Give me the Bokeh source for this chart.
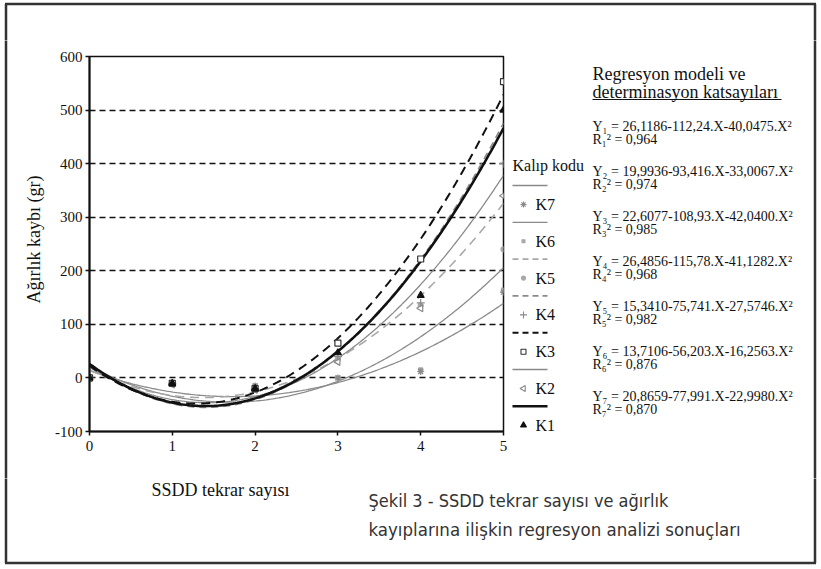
import numpy as np
from bokeh.plotting import figure
from bokeh.models import FixedTicker, ColumnDataSource, Range1d
from bokeh.layouts import row, column
from bokeh.core.properties import value
from bokeh.embed import file_html
from bokeh.resources import INLINE

# ---------------- data ----------------
SERIES = ["K1", "K2", "K3", "K4", "K5", "K6", "K7"]
INTERCEPT = [26.1186, 19.9936, 22.6077, 26.4856, 15.3410, 13.7106, 20.8659]
LINEAR = [-112.24, -93.416, -108.93, -115.78, -75.741, -56.203, -77.991]
QUADRATIC = [40.0475, 33.0067, 42.0400, 41.1282, 27.5746, 16.2563, 22.9980]

X_OBS = [0, 1, 2, 3, 4, 5]
K1_OBS = [0, -10, -20, 47, 154, 500]
K2_OBS = [0, -12, -22, 30, 130, 340]
K3_OBS = [0, -10, -20, 65, 222, 553]
K4_OBS = [0, -10, -20, 40, 140, 400]
K5_OBS = [0, -10, -20, 35, 135, 240]
K6_OBS = [0, -10, -15, 0, 15, 164]
K7_OBS = [0, -10, -15, 0, 12, 160]
OBS = [K1_OBS, K2_OBS, K3_OBS, K4_OBS, K5_OBS, K6_OBS, K7_OBS]

X_TICKS = [0, 1, 2, 3, 4, 5]
Y_TICKS = [-100, 0, 100, 200, 300, 400, 500, 600]
Y_TICK_LABELS = {-100: "-100"}
GRID_TICKS = [0, 100, 200, 300, 400, 500]

EQ_TEXT = [
    ("Y\u2081 = 26,1186-112,24.X-40,0475.X\u00b2", "R\u2081\u00b2 = 0,964"),
    ("Y\u2082 = 19,9936-93,416.X-33,0067.X\u00b2", "R\u2082\u00b2 = 0,974"),
    ("Y\u2083 = 22,6077-108,93.X-42,0400.X\u00b2", "R\u2083\u00b2 = 0,985"),
    ("Y\u2084 = 26,4856-115,78.X-41,1282.X\u00b2", "R\u2084\u00b2 = 0,968"),
    ("Y\u2085 = 15,3410-75,741.X-27,5746.X\u00b2", "R\u2085\u00b2 = 0,982"),
    ("Y\u2086 = 13,7106-56,203.X-16,2563.X\u00b2", "R\u2086\u00b2 = 0,876"),
    ("Y\u2087 = 20,8659-77,991.X-22,9980.X\u00b2", "R\u2087\u00b2 = 0,870"),
]
LEGEND_ORDER = ["K7", "K6", "K5", "K4", "K3", "K2", "K1"]

Y_TITLE = "A\u011f\u0131rl\u0131k kayb\u0131 (gr)"
X_TITLE = "SSDD tekrar say\u0131s\u0131"
CAPTION = ["\u015eekil 3 - SSDD tekrar say\u0131s\u0131 ve a\u011f\u0131rl\u0131k",
           "kay\u0131plar\u0131na ili\u015fkin regresyon analizi sonu\u00e7lar\u0131"]
BLOCK_TITLE = ["Regresyon modeli ve", "determinasyon katsay\u0131lar\u0131"]
LEGEND_TITLE = "Kal\u0131p kodu"

# ---------------- styles ----------------
INK = "#111111"
GRAY = "#8a8a8a"
LGRAY = "#a8a8a8"
FRAME = "#333333"
STYLE = {
    "K1": dict(lc=INK, lw=2.6, dash="solid", marker="triangle", angle=0.0, fill=INK, mc=INK, size=7),
    "K2": dict(lc=GRAY, lw=1.3, dash="solid", marker="triangle", angle=np.pi / 2, fill="white", mc=GRAY, size=7),
    "K3": dict(lc=INK, lw=2.0, dash="9 6", marker="square", angle=0.0, fill="white", mc="#333333", size=6),
    "K4": dict(lc=GRAY, lw=1.6, dash="7 5", marker="cross", angle=0.0, fill=GRAY, mc=GRAY, size=8),
    "K5": dict(lc=LGRAY, lw=1.6, dash="9 6", marker="circle", angle=0.0, fill=LGRAY, mc=LGRAY, size=5),
    "K6": dict(lc=GRAY, lw=1.3, dash="solid", marker="square", angle=0.0, fill=LGRAY, mc=LGRAY, size=4),
    "K7": dict(lc=GRAY, lw=1.3, dash="solid", marker="asterisk", angle=0.0, fill=GRAY, mc=GRAY, size=7),
}
SERIF = "Liberation Serif"
CONDENSED = "DejaVu Sans Condensed"

TOTAL_W, TOTAL_H = 819, 567
TOP_H, LEFT_W, BOT_H = 40, 45, 89
MAIN_W = 463
MID_H = TOTAL_H - TOP_H - BOT_H
RIGHT_W = TOTAL_W - LEFT_W - MAIN_W


def no_frame_align(f):
    if "frame_align" in f.properties():
        f.frame_align = False
    return f


def strip(cx, cy, w, h):
    """A plain figure whose frame fills it; ranges are page pixels (y downward)."""
    f = figure(width=w, height=h, x_range=Range1d(cx, cx + w), y_range=Range1d(cy + h, cy),
               output_backend="svg", toolbar_location=None,
               x_axis_location=None, y_axis_location=None, min_border=0)
    f.grid.visible = False
    f.outline_line_color = None
    f.background_fill_color = "white"
    f.border_fill_color = "white"
    return no_frame_align(f)


def txt(f, x, y, s, size, font=SERIF, color=INK, align="left", angle=0.0):
    f.text(x=[x], y=[y], text=[s], text_font=value(font), text_font_size=value(size),
           text_color=color, text_align=align, text_baseline="middle", angle=angle)


def seg(f, x0, y0, x1, y1, color=FRAME, width=2.5, dash="solid"):
    f.segment(x0=[x0], y0=[y0], x1=[x1], y1=[y1], line_color=color, line_width=width, line_dash=dash)


BL, BR, BT, BB = 5.5, 814.5, 3.5, 562.5   # outer frame lines
EXT = 6  # vertical frame pieces run past each strip's edges (clipped there)

# ---------------- main chart ----------------
p = figure(width=MAIN_W, height=MID_H, x_range=(0, 5), y_range=(-100, 600),
           output_backend="svg", toolbar_location=None,
           min_border_left=44, min_border_right=5, min_border_top=16, min_border_bottom=47)
no_frame_align(p)
p.background_fill_color = "white"
p.border_fill_color = "white"
p.outline_line_color = INK
p.outline_line_width = 1.5

p.xaxis.ticker = FixedTicker(ticks=X_TICKS)
p.yaxis.ticker = FixedTicker(ticks=Y_TICKS)
p.yaxis.major_label_overrides = Y_TICK_LABELS
for ax in (p.xaxis[0], p.yaxis[0]):
    ax.axis_line_color = INK
    ax.axis_line_width = 2
    ax.major_tick_line_color = INK
    ax.major_tick_line_width = 1.5
    ax.major_tick_out = 4
    ax.major_tick_in = 0
    ax.minor_tick_line_color = None
    ax.major_label_text_font = SERIF
    ax.major_label_text_font_size = "15px"
    ax.major_label_text_color = INK
p.yaxis.major_label_standoff = 3
p.xaxis.major_label_standoff = 5

p.xgrid.grid_line_color = None
p.ygrid.ticker = FixedTicker(ticks=GRID_TICKS)
p.ygrid.grid_line_color = INK
p.ygrid.grid_line_width = 1.4
p.ygrid.grid_line_dash = "6 4"

xs = np.linspace(0, 5, 200)
draw_order = ["K6", "K7", "K5", "K2", "K4", "K3", "K1"]
for name in draw_order:
    i = SERIES.index(name)
    st = STYLE[name]
    ys = INTERCEPT[i] + LINEAR[i] * xs + QUADRATIC[i] * xs ** 2
    p.line(xs, ys, line_color=st["lc"], line_width=st["lw"], line_dash=st["dash"])
for name in draw_order:
    i = SERIES.index(name)
    st = STYLE[name]
    src = ColumnDataSource(dict(x=X_OBS, y=OBS[i]))
    p.scatter("x", "y", source=src, marker=st["marker"], angle=st["angle"], size=st["size"],
              fill_color=st["fill"], line_color=st["mc"], line_width=1.2)

# ---------------- top strip (frame line only) ----------------
top = strip(0, 0, TOTAL_W, TOP_H)
seg(top, BL - 1, BT, BR + 1, BT)
seg(top, BL, BT, BL, TOP_H + EXT)
seg(top, BR, BT, BR, TOP_H + EXT)

# ---------------- left strip (y title) ----------------
left = strip(0, TOP_H, LEFT_W, MID_H)
seg(left, BL, TOP_H - EXT, BL, TOP_H + MID_H + EXT)
txt(left, 33, 239, Y_TITLE, "18px", align="center", angle=np.pi / 2)

# ---------------- right panel (legend + equations) ----------------
rp = strip(LEFT_W + MAIN_W, TOP_H, RIGHT_W, MID_H)
seg(rp, BR, TOP_H - EXT, BR, TOP_H + MID_H + EXT)
txt(rp, 592, 73, BLOCK_TITLE[0], "18px")
txt(rp, 592, 91, BLOCK_TITLE[1], "18px")
seg(rp, 592, 99, 781, 99, color=INK, width=1.2)
for k, (eq, r2) in enumerate(EQ_TEXT):
    y0 = 125.5 + 45 * k
    txt(rp, 592, y0, eq, "14px")
    txt(rp, 592, y0 + 13, r2, "14px")

txt(rp, 512, 165, LEGEND_TITLE, "16px")
for k, name in enumerate(LEGEND_ORDER):
    st = STYLE[name]
    ly = 204 + 36.8 * k
    seg(rp, 512, ly - 19, 547, ly - 19, color=st["lc"], width=st["lw"],
        dash=st["dash"] if st["dash"] == "solid" else "6 4")
    rp.scatter([523], [ly], marker=st["marker"], angle=st["angle"], size=st["size"] - 1,
               fill_color=st["fill"], line_color=st["mc"], line_width=1.1)
    txt(rp, 535, ly, name, "16px")

# ---------------- bottom strip (x title, caption) ----------------
bot = strip(0, TOP_H + MID_H, TOTAL_W, BOT_H)
seg(bot, BL, TOP_H + MID_H - EXT, BL, BB)
seg(bot, BR, TOP_H + MID_H - EXT, BR, BB)
seg(bot, BL - 1, BB, BR + 1, BB)
txt(bot, 220, 489, X_TITLE, "18px", align="center")
txt(bot, 368, 500, CAPTION[0], "18px", font=CONDENSED, color="#333333")
txt(bot, 368, 529, CAPTION[1], "18.5px", font=CONDENSED, color="#333333")

layout = column(top, row(left, p, rp), bot)
open("out.html", "w").write(file_html(layout, INLINE))
